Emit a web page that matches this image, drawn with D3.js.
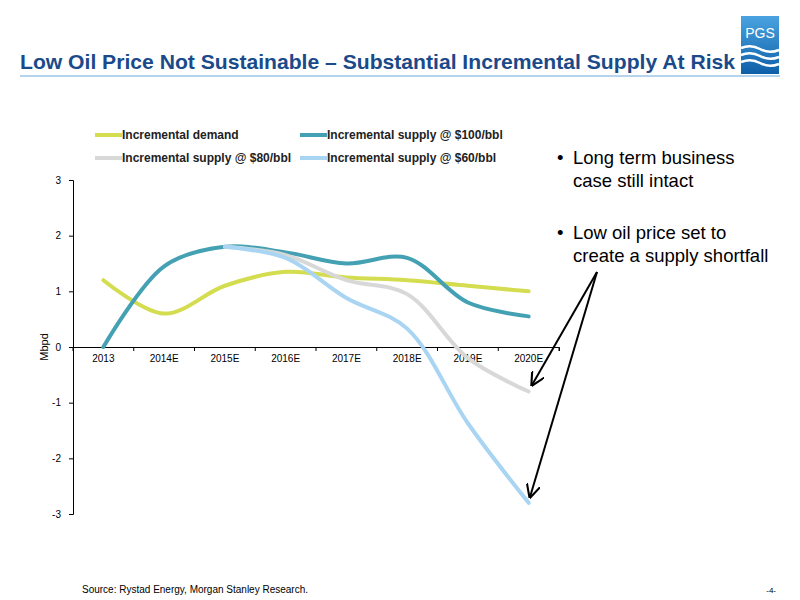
<!DOCTYPE html><html><head><meta charset="utf-8"><script src="https://cdn.jsdelivr.net/npm/d3@7"></script>
<style>body{margin:0;background:#fff}svg{font-family:"Liberation Sans",Arial,sans-serif}</style></head><body><svg width="800" height="600"></svg>
<script>
const categories=["2013","2014E","2015E","2016E","2017E","2018E","2019E","2020E"];
const demand=[1.2,0.6,1.1,1.35,1.25,1.2,1.1,1.0];
const supply100=[0,1.45,1.8,1.7,1.5,1.6,0.8,0.55];
const supply80=[null,null,1.8,1.65,1.2,0.95,-0.2,-0.8];
const supply60=[null,null,1.8,1.6,0.88,0.33,-1.37,-2.8];
const yTicks=[-3,-2,-1,0,1,2,3];
const series=[
 {name:"Incremental demand",v:demand,c:"#D4DC4F"},
 {name:"Incremental supply @ $100/bbl",v:supply100,c:"#44A1B3"},
 {name:"Incremental supply @ $80/bbl",v:supply80,c:"#D8D8D8"},
 {name:"Incremental supply @ $60/bbl",v:supply60,c:"#A9D5F2"}];
const svg=d3.select("svg");
svg.append("text").attr("x",20).attr("y",69).attr("font-size",21).attr("font-weight","bold").attr("fill","#1A4A8A").attr("textLength",715).attr("lengthAdjust","spacingAndGlyphs").text("Low Oil Price Not Sustainable – Substantial Incremental Supply At Risk");
svg.append("line").attr("x1",20).attr("x2",780).attr("y1",76).attr("y2",76).attr("stroke","#6FA8DC").attr("stroke-width",1);
const lg=svg.append("defs").append("linearGradient").attr("id","g").attr("x1",0).attr("y1",0).attr("x2",0).attr("y2",1);
lg.append("stop").attr("offset",0).attr("stop-color","#4AA3E0");lg.append("stop").attr("offset",1).attr("stop-color","#0E5FA8");
svg.append("rect").attr("x",741).attr("y",16).attr("width",38).attr("height",58).attr("fill","url(#g)");
svg.append("text").attr("x",760).attr("y",38).attr("text-anchor","middle").attr("font-size",14).attr("fill","#fff").text("PGS");
[48,55,62].forEach(y=>svg.append("path").attr("d",`M741,${y} q10,-4 19,1 t19,1`).attr("stroke","#fff").attr("stroke-width",2.5).attr("fill","none"));
const x=d3.scaleBand().domain(categories).range([73,559]);
const y=d3.scaleLinear().domain([-3,3]).range([514,180]);
const ga=svg.append("g").attr("transform","translate(73,0)").call(d3.axisLeft(y).tickValues(yTicks).tickSize(4).tickPadding(8).tickFormat(d=>String(d)));
ga.selectAll("text").attr("font-size",10).attr("fill","#000");
const gx=svg.append("g").attr("transform",`translate(0,${y(0)})`).call(d3.axisBottom(x).tickSize(4).tickPadding(4));
gx.selectAll("text").attr("font-size",10).attr("fill","#000");
gx.selectAll(".tick line").attr("transform",`translate(${-x.bandwidth()/2},0)`);
gx.append("line").attr("x1",559).attr("x2",559).attr("y1",0).attr("y2",4).attr("stroke","#000");
svg.selectAll(".domain").attr("stroke","#000");
svg.append("text").attr("transform",`translate(48,${y(0)}) rotate(-90)`).attr("text-anchor","middle").attr("font-size",11).text("Mbpd");
const line=d3.line().defined(d=>d!=null).x((d,i)=>x(categories[i])+x.bandwidth()/2).y(d=>y(d)).curve(d3.curveCatmullRom.alpha(0.5));
series.forEach(s=>{
 svg.append("path").attr("d",line(s.v)).attr("fill","none").attr("stroke",s.c).attr("stroke-width",4).attr("stroke-linecap","round");});
const lp=[[95,135],[300,135],[95,158],[300,158]];
series.forEach((s,i)=>{const [lx,ly]=lp[i];
 svg.append("line").attr("x1",lx).attr("x2",lx+27).attr("y1",ly).attr("y2",ly).attr("stroke",s.c).attr("stroke-width",4);
 svg.append("text").attr("x",lx+27).attr("y",ly+4).attr("font-size",12).attr("font-weight","bold").attr("fill","#222").text(s.name);});
const bt=[["•",557,164],["Long term business",573,164],["case still intact",573,187],["•",557,239],["Low oil price set to",573,239],["create a supply shortfall",573,262]];
bt.forEach(b=>svg.append("text").attr("x",b[1]).attr("y",b[2]).attr("font-size",18.5).attr("fill","#000").text(b[0]));
svg.append("defs").append("marker").attr("id","ar").attr("viewBox","0 0 10 10").attr("refX",9).attr("refY",5).attr("markerWidth",7).attr("markerHeight",7).attr("orient","auto").append("path").attr("d","M0,0 L10,5 L0,10").attr("fill","none").attr("stroke","#000").attr("stroke-width",1.5);
[[532,385],[530,497]].forEach(p=>svg.append("line").attr("x1",597).attr("y1",272).attr("x2",p[0]).attr("y2",p[1]).attr("stroke","#000").attr("stroke-width",2).attr("marker-end","url(#ar)"));
svg.append("text").attr("x",82).attr("y",593).attr("font-size",10).text("Source: Rystad Energy, Morgan Stanley Research.");
svg.append("text").attr("x",776).attr("y",593).attr("font-size",8).attr("text-anchor","end").text("-4-");
</script></body></html>
